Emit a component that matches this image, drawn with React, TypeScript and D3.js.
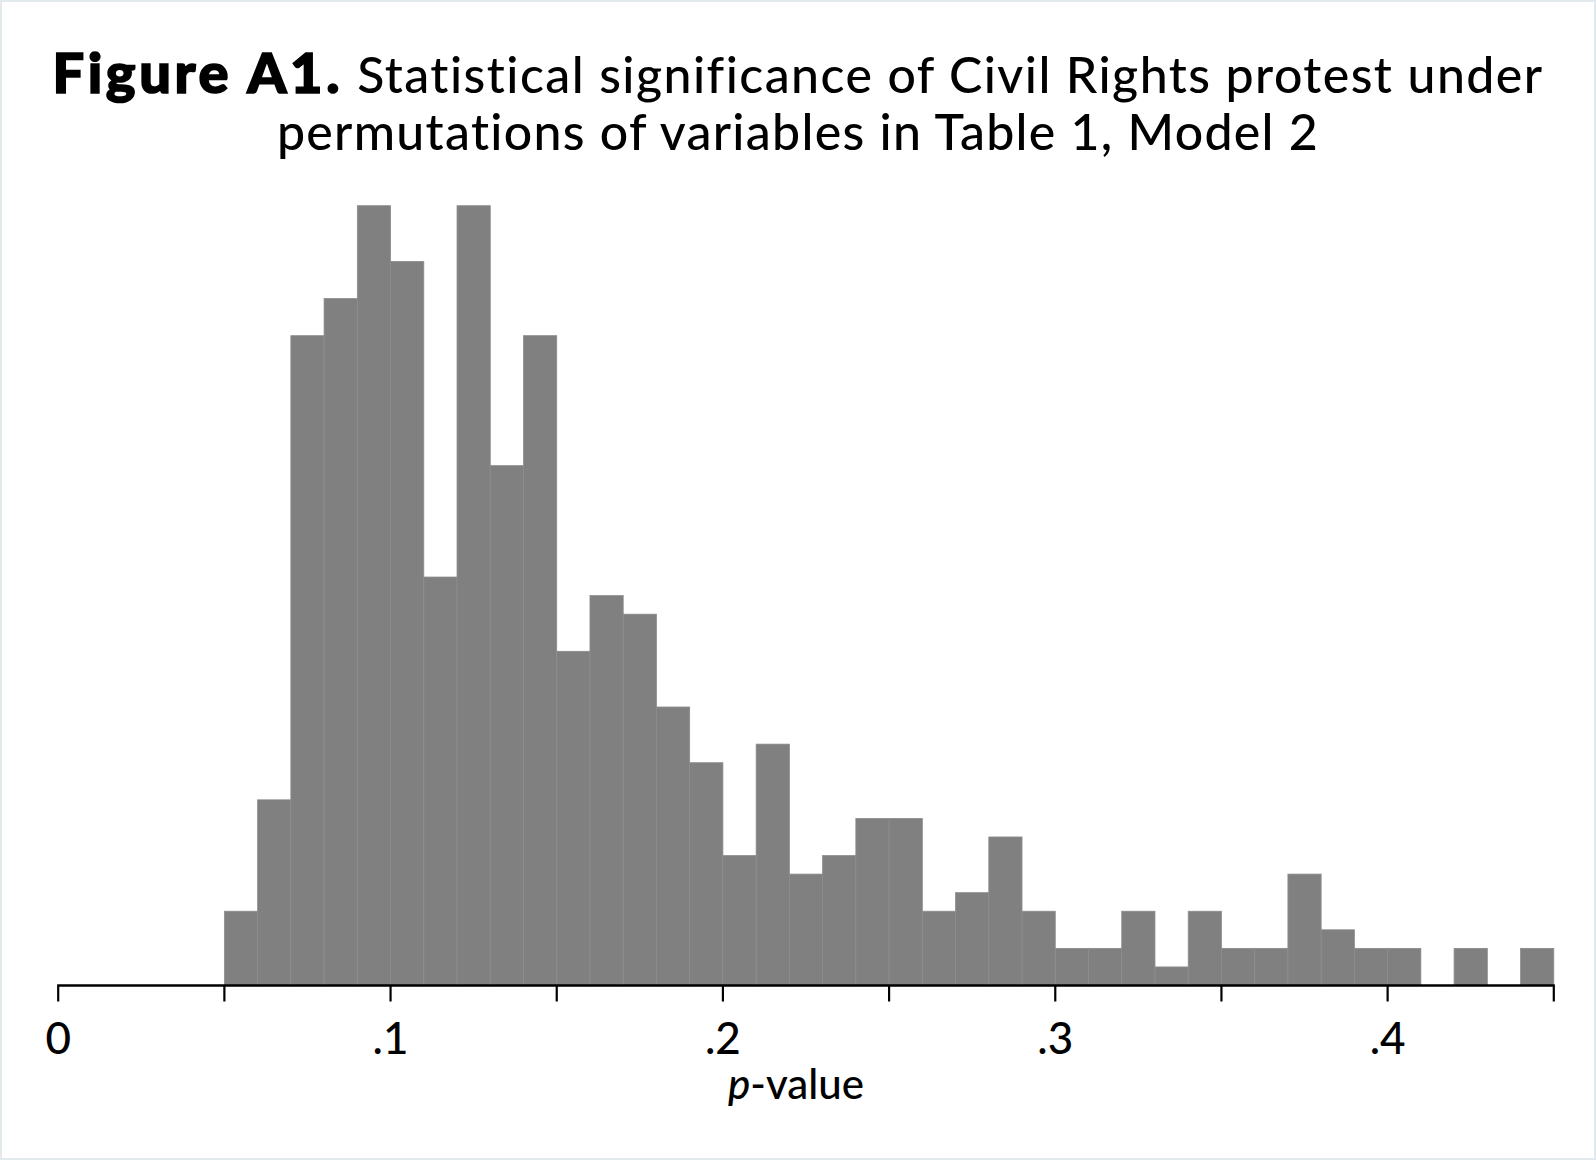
import React from "react";
import * as d3 from "d3";

const binStarts = [
  0.05, 0.06, 0.07, 0.08, 0.09, 0.10, 0.11, 0.12, 0.13, 0.14,
  0.15, 0.16, 0.17, 0.18, 0.19, 0.20, 0.21, 0.22, 0.23, 0.24,
  0.25, 0.26, 0.27, 0.28, 0.29, 0.30, 0.31, 0.32, 0.33, 0.34,
  0.35, 0.36, 0.37, 0.38, 0.39, 0.40, 0.41, 0.42, 0.43, 0.44,
];
const binWidth = 0.01;
const counts = [
  4, 10, 35, 37, 42, 39, 22, 42, 28, 35,
  18, 21, 20, 15, 12, 7, 13, 6, 7, 9,
  9, 4, 5, 8, 4, 2, 2, 4, 1, 4,
  2, 2, 6, 3, 2, 2, 0, 2, 0, 2,
];
const tickValues = [0, 0.05, 0.1, 0.15, 0.2, 0.25, 0.3, 0.35, 0.4, 0.45];
const tickLabels = ["0", "", ".1", "", ".2", "", ".3", "", ".4", ""];
const titleBold = "Figure A1.";
const titleRest = " Statistical significance of Civil Rights protest under";
const titleLine2 = "permutations of variables in Table 1, Model 2";

const W = 1596;
const H = 1160;
const FONT = "Lato, 'Open Sans', sans-serif";

export default function App() {
  const x = d3.scaleLinear().domain([0, 0.45]).range([58.2, 1553.8]);
  const y = d3.scaleLinear().domain([0, 42]).range([985.5, 205.7]);
  const axisY = y(0);

  return (
    <svg
      width={W}
      height={H}
      style={{ position: "absolute", left: 0, top: 0, background: "#fff" }}
    >
      <rect x={1} y={1} width={W - 2} height={H - 2} fill="#fff" stroke="#e3eaee" strokeWidth={2} />
      <text
        x={798}
        y={93}
        textAnchor="middle"
        fontFamily={FONT}
        fontSize={50}
        fill="#000"
      >
        <tspan fontWeight={900} fontSize={56} letterSpacing={3.6} stroke="#000" strokeWidth={1.6}>{titleBold}</tspan>
        <tspan fontWeight={500} letterSpacing={1.45}>{titleRest}</tspan>
      </text>
      <text
        x={798}
        y={150}
        textAnchor="middle"
        fontFamily={FONT}
        fontSize={50}
        fontWeight={500}
        letterSpacing={1.3}
        fill="#000"
      >
        {titleLine2}
      </text>
      <g>
        {binStarts.map((b, i) =>
          counts[i] > 0 ? (
            <rect
              key={i}
              x={x(b)}
              y={y(counts[i])}
              width={x(b + binWidth) - x(b)}
              height={axisY - y(counts[i])}
              fill="#808080"
              stroke="#8c8c8c"
              strokeWidth={0.8}
            />
          ) : null
        )}
      </g>
      <line x1={x(0) - 1} x2={x(0.45) + 1} y1={axisY} y2={axisY} stroke="#000" strokeWidth={2.6} />
      {tickValues.map((t, i) => (
        <g key={i}>
          <line x1={x(t)} x2={x(t)} y1={axisY} y2={axisY + 16} stroke="#000" strokeWidth={2.2} />
          {tickLabels[i] ? (
            <text
              x={x(t)}
              y={1054}
              textAnchor="middle"
              fontFamily={FONT}
              fontSize={44}
              fontWeight={500}
              fill="#000"
            >
              {tickLabels[i]}
            </text>
          ) : null}
        </g>
      ))}
      <text x={796} y={1099} textAnchor="middle" fontFamily={FONT} fontSize={42} fontWeight={500} fill="#000">
        <tspan fontStyle="italic">p</tspan>
        <tspan>-value</tspan>
      </text>
    </svg>
  );
}
